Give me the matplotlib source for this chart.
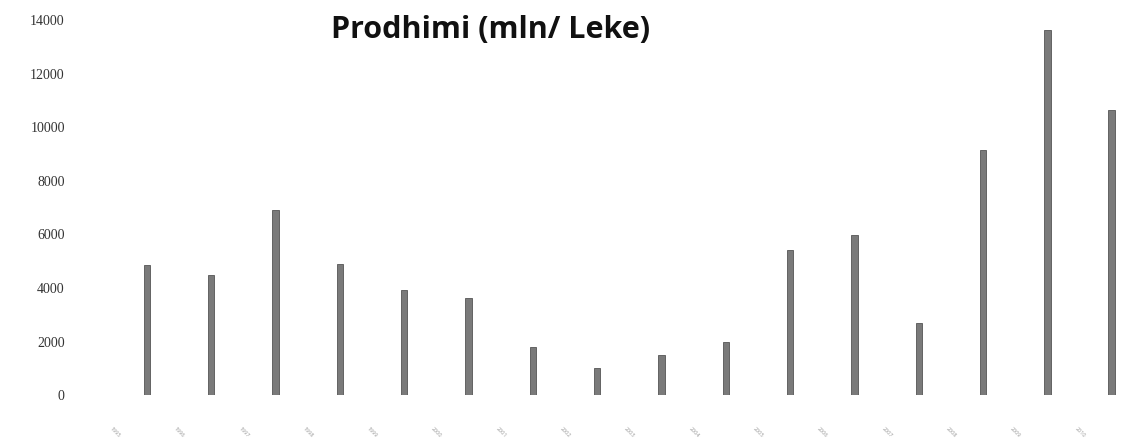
import numpy as np
import matplotlib.pyplot as plt
from matplotlib.transforms import ScaledTranslation

# labels on the x axis are unreadable in the scan; years are a best guess
periods = ['1995', '1996', '1997', '1998', '1999', '2000', '2001', '2002',
           '2003', '2004', '2005', '2006', '2007', '2008', '2009', '2010']
production = [4850, 4480, 6900, 4890, 3920, 3620, 1790, 1010,
              1490, 1980, 5410, 5970, 2690, 9140, 13620, 10630]
yticks = [0, 2000, 4000, 6000, 8000, 10000, 12000, 14000]

plt.rcParams['font.family'] = ['Open Sans', 'DejaVu Sans']

fig = plt.figure(figsize=(11.22, 4.43), dpi=100)
ax = fig.add_axes([0.08, 0.108, 0.92, 0.847])

x = np.arange(len(periods))
ax.bar(x, production, width=0.1, color='#7a7a7a', edgecolor='#555555', linewidth=0.6)

ax.set_xlim(-0.886, 15.16)
ax.set_ylim(0, 14000)
ax.set_yticks(yticks)
ax.set_yticklabels([str(v) for v in yticks], fontsize=10, color='#333333',
                   family=['Liberation Serif', 'DejaVu Serif'])
ax.tick_params(axis='y', length=0, pad=18)

ax.set_xticks(x)
ax.set_xticklabels(periods, fontsize=4, color='#999999', rotation=-45,
                   ha='left', va='top')
ax.tick_params(axis='x', length=0, pad=22)
offset = ScaledTranslation(-0.38, 0, fig.dpi_scale_trans)
for lab in ax.get_xticklabels():
    lab.set_transform(lab.get_transform() + offset)

for side in ['top', 'right', 'left', 'bottom']:
    ax.spines[side].set_visible(False)

fig.text(0.437, 0.932, 'Prodhimi (mln/ Leke)', fontsize=22, fontweight='bold',
         ha='center', va='center', color='#111111')

fig.savefig('out.png', dpi=100, facecolor='white')
